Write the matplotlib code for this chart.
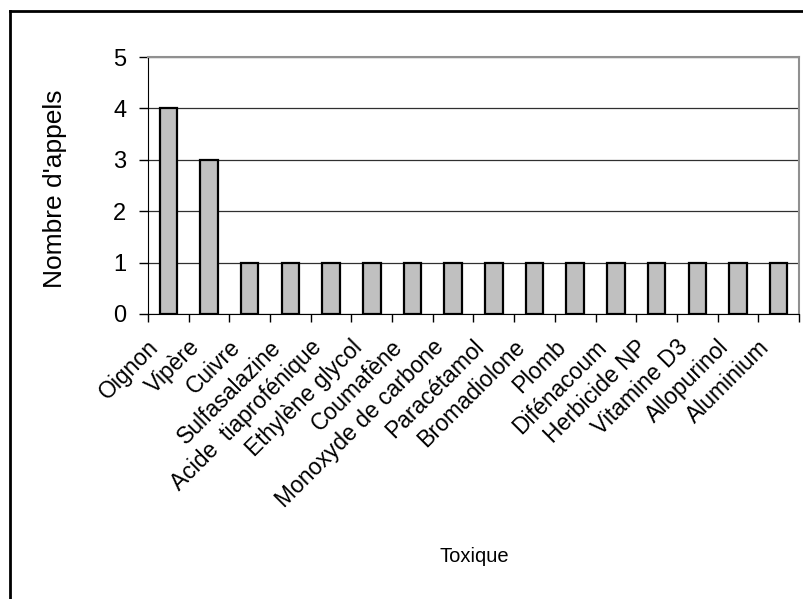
import matplotlib.pyplot as plt
from matplotlib.lines import Line2D

# Données: nombre d'appels par toxique
toxiques = ["Oignon", "Vipère", "Cuivre", "Sulfasalazine", "Acide  tiaprofénique",
            "Ethylène glycol", "Coumafène", "Monoxyde de carbone", "Paracétamol",
            "Bromadiolone", "Plomb", "Difénacoum", "Herbicide NP", "Vitamine D3",
            "Allopurinol", "Aluminium"]
appels = [4, 3, 1, 1, 1, 1, 1, 1, 1, 1, 1, 1, 1, 1, 1, 1]

plt.rcParams['font.family'] = ['Liberation Sans', 'DejaVu Sans']

fig = plt.figure(figsize=(8.04, 5.99), dpi=100)
ax = fig.add_axes([148 / 804, 1 - 314 / 599, (799 - 148) / 804, (314 - 57) / 599])

x = list(range(len(toxiques)))
ax.bar(x, appels, width=0.43, color='#C0C0C0', edgecolor='black', linewidth=1.6, zorder=3)

ax.set_xlim(-0.5, len(toxiques) - 0.5)
ax.set_ylim(0, 5)
ax.set_yticks(range(6))
ax.set_yticklabels([str(v) for v in range(6)], fontsize=17)

# grille horizontale
ax.yaxis.grid(True, color='#303030', linewidth=0.9, zorder=0)
ax.set_axisbelow(True)

# ticks entre les catégories
ax.set_xticks([i - 0.5 for i in range(len(toxiques) + 1)])
ax.set_xticklabels([])
ax.tick_params(axis='x', length=6, width=1, color='black')
ax.tick_params(axis='y', length=6.5, width=1, color='black', pad=9)

for i, name in enumerate(toxiques):
    ax.text(i - 0.52, -0.42, name, rotation=45, rotation_mode='anchor',
            ha='right', va='top', fontsize=16.5)

ax.spines['left'].set_color('black')
ax.spines['bottom'].set_color('black')
ax.spines['top'].set_color('#909090')
ax.spines['right'].set_color('#909090')
ax.spines['top'].set_linewidth(1.5)
ax.spines['right'].set_linewidth(1.5)

fig.text(55 / 804, 1 - 189 / 599, "Nombre d'appels", rotation=90, ha='center', va='center', fontsize=19)
fig.text(474 / 804, 1 - 556 / 599, "Toxique", ha='center', va='center', fontsize=14.5)

# cadre du graphique (bords gauche et haut visibles)
fig.add_artist(Line2D([10 / 804, 10 / 804], [0, 1 - 11 / 599], transform=fig.transFigure,
                      color='black', linewidth=2))
fig.add_artist(Line2D([10 / 804, 1], [1 - 11 / 599, 1 - 11 / 599], transform=fig.transFigure,
                      color='black', linewidth=2))

fig.savefig("out.png", dpi=100)
